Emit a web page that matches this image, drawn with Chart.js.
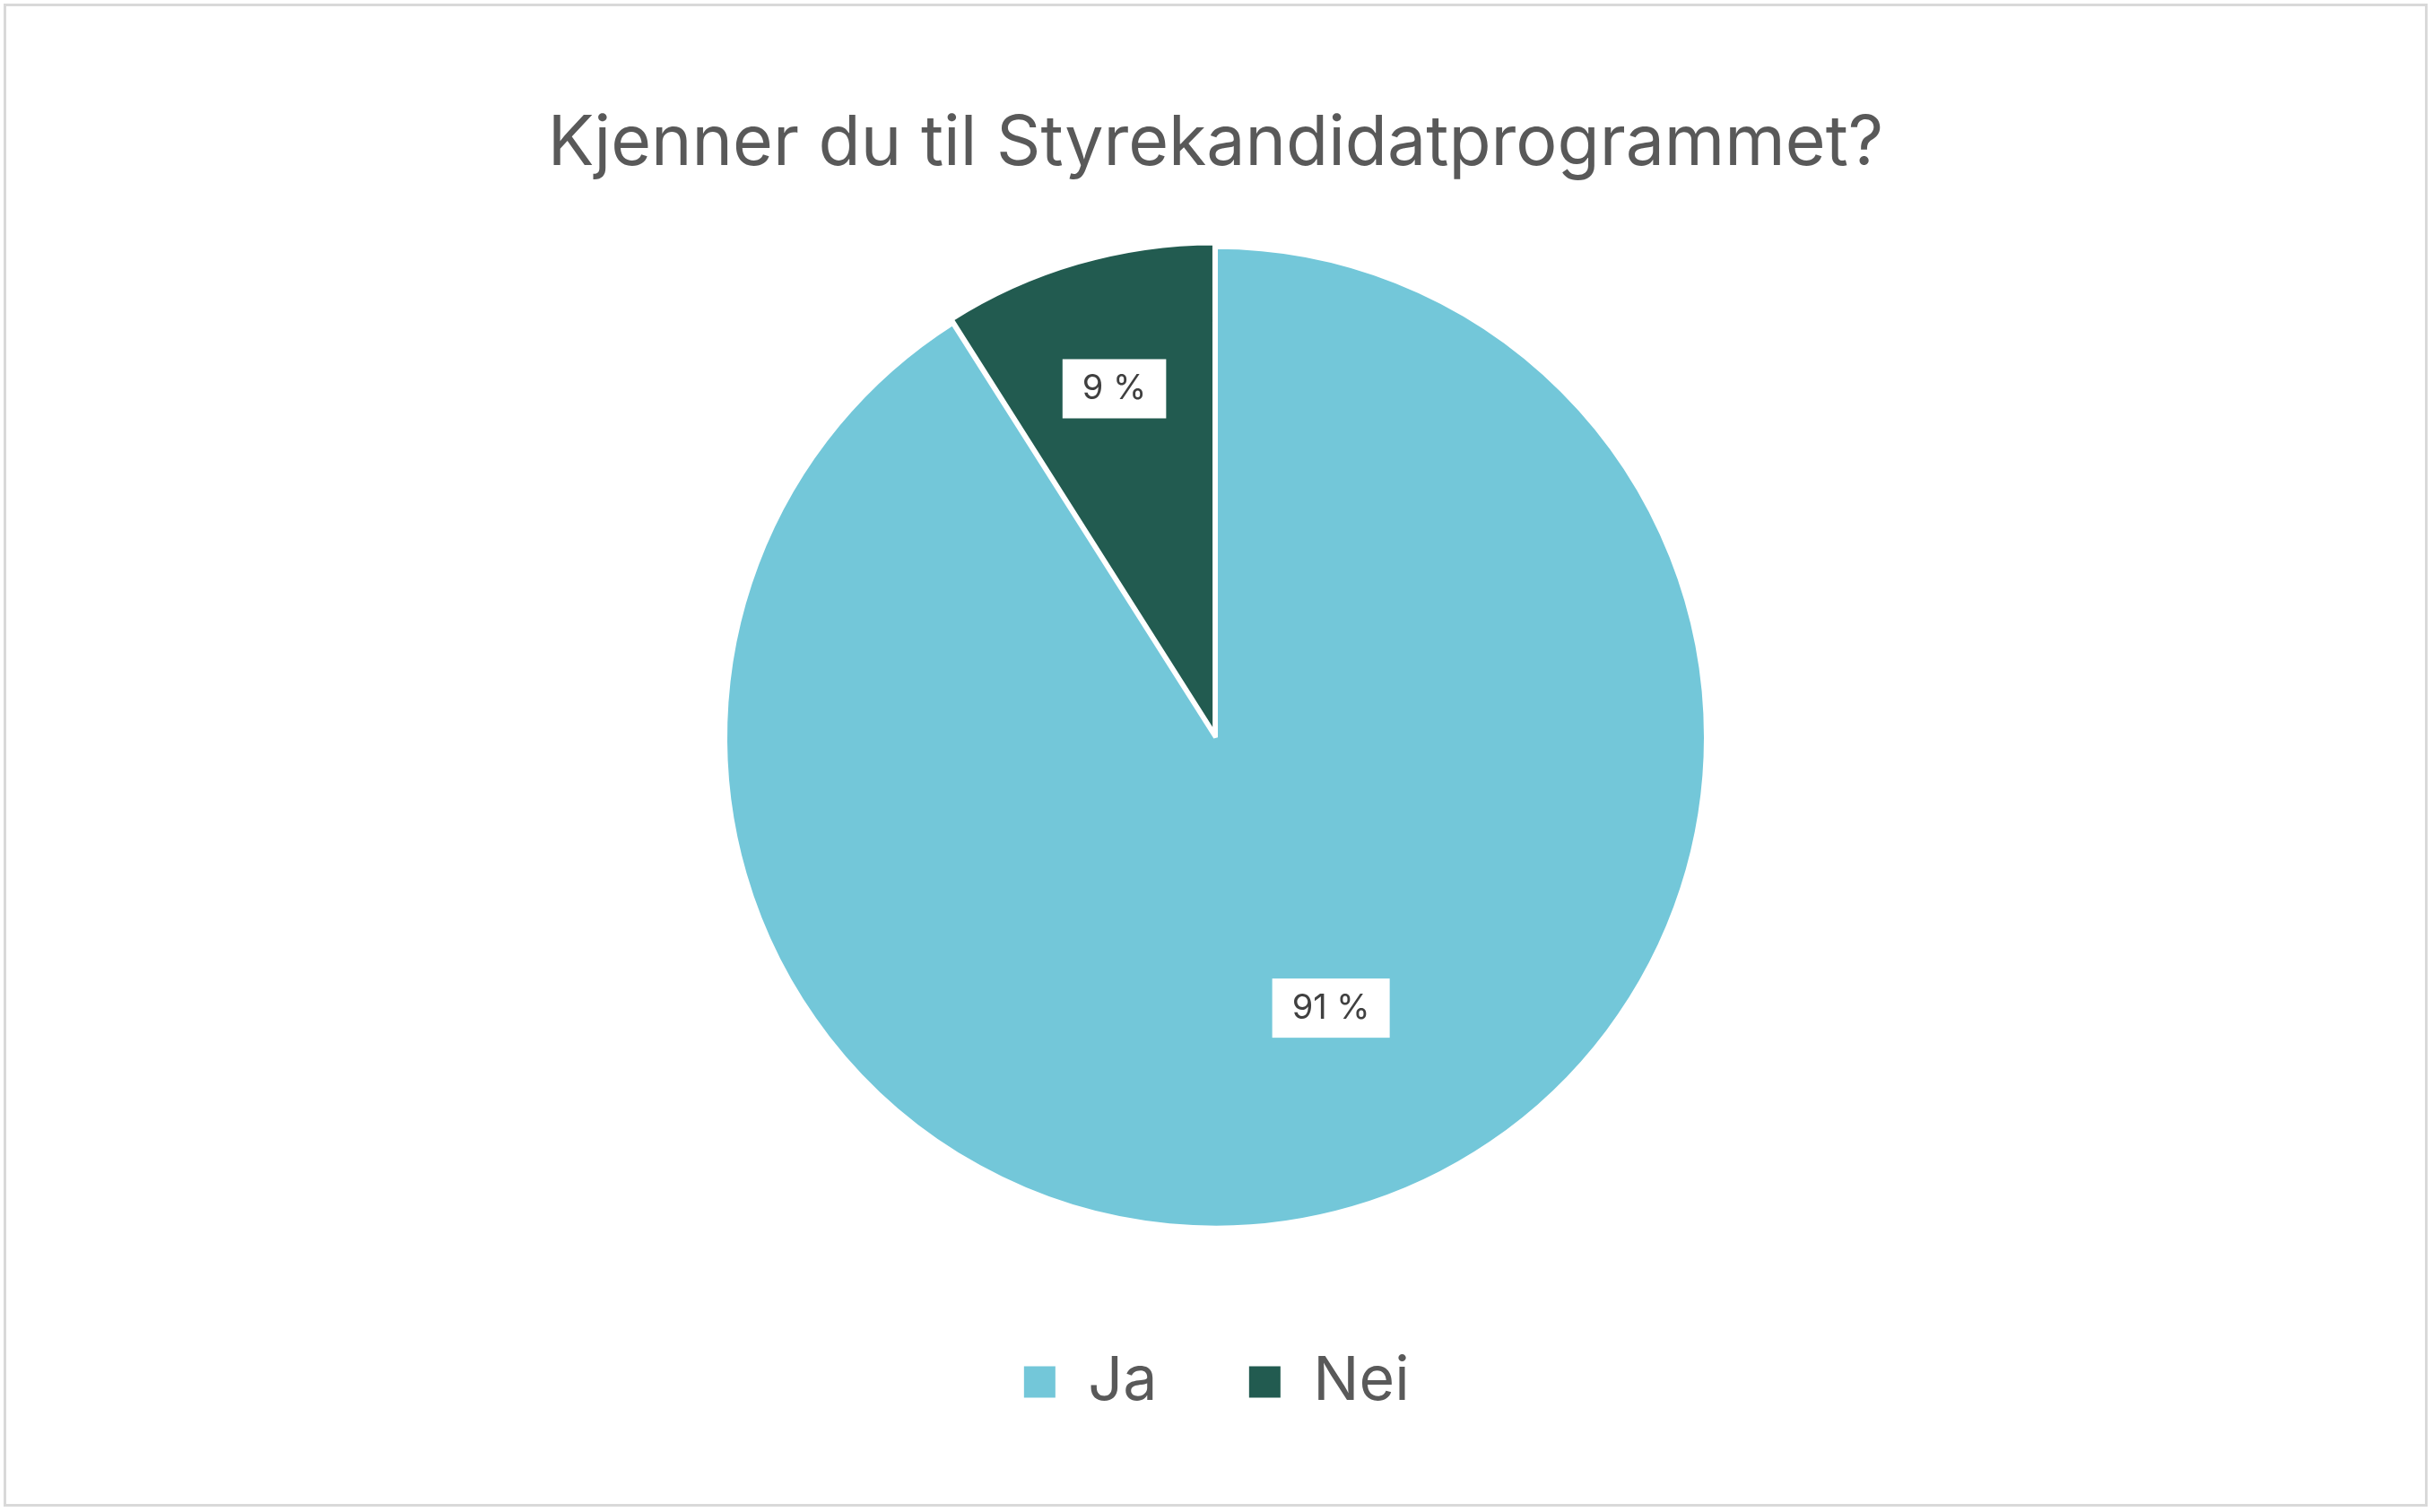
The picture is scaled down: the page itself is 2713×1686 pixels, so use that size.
<!DOCTYPE html>
<html><head><meta charset="utf-8">
<script src="https://cdn.jsdelivr.net/npm/chart.js@4"></script>
<style>
html,body{margin:0;padding:0;background:#fff;}
#wrap{position:absolute;left:4px;top:4px;width:2703px;height:1676px;border:3px solid #d9d9d9;box-sizing:border-box;}
</style></head><body>
<div id="wrap"><canvas id="c"></canvas></div>
<script>
const categories = ["Ja", "Nei"];
const values = [91, 9];
const labels = ["91 %", "9 %"];
const colors = ["#73C7D9", "#225B50"];

const labelPlugin = {
  id: 'boxLabels',
  afterDatasetsDraw(chart) {
    const ctx = chart.ctx;
    const meta = chart.getDatasetMeta(0);
    const fracs = [0.6, 0.74];
    const bias = [-0.12, 0];
    meta.data.forEach((arc, i) => {
      const p = arc.getProps(['x','y','startAngle','endAngle','outerRadius'], true);
      const a = (p.startAngle + p.endAngle) / 2 + bias[i];
      const r = p.outerRadius * fracs[i];
      const x = p.x + Math.cos(a) * r, y = p.y + Math.sin(a) * r;
      ctx.save();
      ctx.font = '38px Inter, "Open Sans", sans-serif';
      const w = ctx.measureText(labels[i]).width + 44, h = 66;
      ctx.fillStyle = '#fff';
      ctx.fillRect(x - w/2, y - h/2, w, h);
      ctx.fillStyle = '#404040';
      ctx.textAlign = 'center'; ctx.textBaseline = 'middle';
      ctx.fillText(labels[i], x, y);
      ctx.restore();
    });
  }
};

new Chart(document.getElementById('c'), {
  type: 'pie',
  data: { labels: categories, datasets: [{ data: values, backgroundColor: colors, borderColor: '#fff', borderWidth: 5, offset: [0, 12] }] },
  options: {
    responsive: true, maintainAspectRatio: false, animation: false,
    radius: 547,
    layout: { padding: { top: 0, bottom: 92 } },
    plugins: {
      title: { display: true, text: 'Kjenner du til Styrekandidatprogrammet?', color: '#595959',
        font: { family: 'Inter, "Open Sans", sans-serif', size: 77, weight: 'normal' }, padding: { top: 108, bottom: 30 } },
      legend: { position: 'bottom', labels: { color: '#595959', boxWidth: 40, boxHeight: 40, padding: 100,
        font: { family: 'Inter, "Open Sans", sans-serif', size: 68 } } },
      tooltip: { enabled: false }
    }
  },
  plugins: [labelPlugin]
});
</script></body></html>
